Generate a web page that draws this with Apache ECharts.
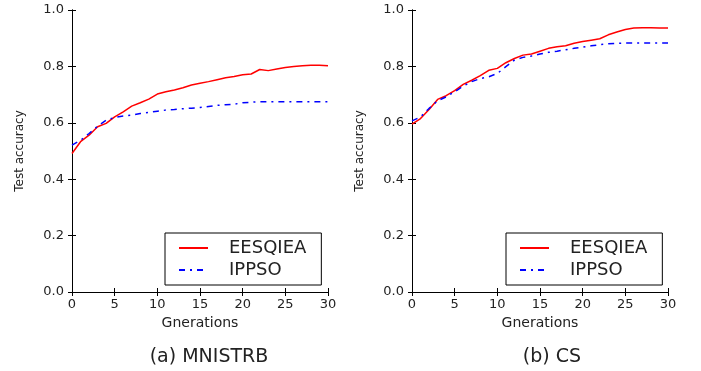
<!DOCTYPE html>
<html>
<head>
<meta charset="utf-8">
<script src="https://cdn.jsdelivr.net/npm/echarts@6/dist/echarts.min.js"></script>
<style>
  html, body { margin: 0; padding: 0; background: #fff; }
  #chart { width: 701px; height: 371px; }
</style>
</head>
<body>
<div id="chart"></div>
<script>
// generations 0..30
const generations = [];
for (let g = 0; g <= 30; g++) generations.push(g);

// (a) MNISTRB
const mnistEesqiea = [0.491, 0.533, 0.556, 0.586, 0.598, 0.621, 0.639, 0.659, 0.671, 0.684, 0.702,
  0.710, 0.716, 0.724, 0.734, 0.740, 0.746, 0.753, 0.760, 0.764, 0.770,
  0.773, 0.789, 0.785, 0.791, 0.796, 0.800, 0.802, 0.804, 0.804, 0.802];
const mnistIppso = [0.521, 0.538, 0.562, 0.588, 0.609, 0.619, 0.624, 0.627, 0.633, 0.637, 0.641,
  0.645, 0.647, 0.650, 0.652, 0.654, 0.658, 0.662, 0.664, 0.666, 0.671,
  0.673, 0.675, 0.675, 0.675, 0.675, 0.675, 0.675, 0.675, 0.675, 0.675];

// (b) CS
const csEesqiea = [0.595, 0.615, 0.647, 0.683, 0.696, 0.714, 0.736, 0.751, 0.767, 0.786, 0.793,
  0.813, 0.828, 0.840, 0.844, 0.854, 0.864, 0.870, 0.873, 0.882, 0.888,
  0.893, 0.898, 0.912, 0.922, 0.931, 0.936, 0.937, 0.937, 0.936, 0.936];
const csIppso = [0.607, 0.621, 0.651, 0.678, 0.692, 0.710, 0.730, 0.746, 0.757, 0.763, 0.775,
  0.799, 0.822, 0.832, 0.837, 0.844, 0.850, 0.854, 0.859, 0.864, 0.868,
  0.873, 0.877, 0.880, 0.882, 0.883, 0.883, 0.883, 0.883, 0.883, 0.883];

const seriesNames = ['EESQIEA', 'IPPSO'];
const panelTitles = ['(a) MNISTRB', '(b) CS'];

const font = 'DejaVu Sans';
const chart = echarts.init(document.getElementById('chart'));

const grids = [
  { left: 72, top: 10, width: 256, height: 282 },
  { left: 412, top: 10, width: 256, height: 282 }
];

const xAxes = [];
const yAxes = [];
grids.forEach((g, i) => {
  // bottom axis
  xAxes.push({
    type: 'value', gridIndex: i, min: 0, max: 30, interval: 5,
    name: 'Gnerations', nameLocation: 'middle', nameGap: 22,
    nameTextStyle: { fontFamily: font, fontSize: 14, color: '#222' },
    axisLine: { show: true, lineStyle: { color: '#000', width: 1 } },
    axisTick: { show: true, inside: true, length: 4, lineStyle: { color: '#000' } },
    axisLabel: { fontFamily: font, fontSize: 13, color: '#222', margin: 6 },
    splitLine: { show: false }
  });
  // top mirror
  xAxes.push({
    type: 'value', gridIndex: i, position: 'top', min: 0, max: 30, interval: 5,
    axisLine: { show: true, lineStyle: { color: '#000', width: 1 } },
    axisTick: { show: true, inside: true, length: 4, lineStyle: { color: '#000' } },
    axisLabel: { show: false },
    splitLine: { show: false }
  });
  yAxes.push({
    type: 'value', gridIndex: i, min: 0, max: 1, interval: 0.2,
    name: 'Test accuracy', nameLocation: 'middle', nameGap: 46,
    nameTextStyle: { fontFamily: font, fontSize: 12, color: '#222' },
    axisLine: { show: true, lineStyle: { color: '#000', width: 1 } },
    axisTick: { show: true, inside: true, length: 4, lineStyle: { color: '#000' } },
    axisLabel: { fontFamily: font, fontSize: 13, color: '#222', margin: 8,
      formatter: v => v.toFixed(1) },
    splitLine: { show: false }
  });
  yAxes.push({
    type: 'value', gridIndex: i, position: 'right', min: 0, max: 1, interval: 0.2,
    axisLine: { show: true, lineStyle: { color: '#000', width: 1 } },
    axisTick: { show: true, inside: true, length: 4, lineStyle: { color: '#000' } },
    axisLabel: { show: false },
    splitLine: { show: false }
  });
});

function makeSeries(name, values, panel, color, dash) {
  return {
    name: name, type: 'line',
    xAxisIndex: panel * 2, yAxisIndex: panel * 2,
    data: generations.map((g, k) => [g, values[k]]),
    symbol: 'none', smooth: false,
    lineStyle: { color: color, width: 1.5, type: dash },
    itemStyle: { color: color }
  };
}

const dashDot = [6, 5, 2, 5];

const legendBase = {
  orient: 'vertical', top: 233,
  data: seriesNames,
  borderColor: '#000', borderWidth: 1,
  padding: [6, 15, 6, 13],
  itemWidth: 29, itemHeight: 18, itemGap: 4,
  itemStyle: { opacity: 0 },   // hide the marker, keep the line
  textStyle: { fontFamily: font, fontSize: 18, color: '#222', lineHeight: 18, padding: [0, 0, 0, 16] }
};

const option = {
  backgroundColor: '#fff',
  animation: false,
  grid: grids,
  xAxis: xAxes,
  yAxis: yAxes,
  legend: [
    Object.assign({}, legendBase, { left: 165 }),
    Object.assign({}, legendBase, { left: 506 })
  ],
  series: [
    makeSeries('EESQIEA', mnistEesqiea, 0, '#ff0000', 'solid'),
    makeSeries('IPPSO', mnistIppso, 0, '#0000ff', dashDot),
    makeSeries('EESQIEA', csEesqiea, 1, '#ff0000', 'solid'),
    makeSeries('IPPSO', csIppso, 1, '#0000ff', dashDot)
  ],
  graphic: [
    { type: 'text', x: 209, y: 357,
      style: { text: panelTitles[0], font: '19px "DejaVu Sans"', fill: '#222', align: 'center', verticalAlign: 'middle' } },
    { type: 'text', x: 552, y: 357,
      style: { text: panelTitles[1], font: '19px "DejaVu Sans"', fill: '#222', align: 'center', verticalAlign: 'middle' } }
  ]
};

chart.setOption(option);
</script>
</body>
</html>
